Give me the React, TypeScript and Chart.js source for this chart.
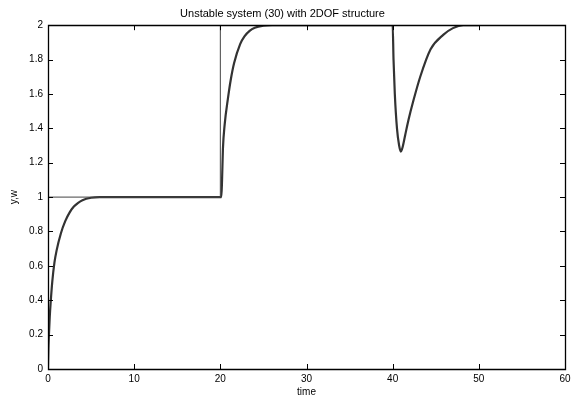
import React, { useEffect, useRef } from "react";
import { Chart, registerables } from "chart.js";

Chart.register(...registerables);

// Output y (simulated response)
const yTime = [
  0, 0.05, 0.1, 0.2, 0.3, 0.5, 0.75, 1, 1.5, 2, 2.5, 3, 3.5, 4, 5, 6, 20,
  20.12, 20.2, 20.3, 20.5, 20.9, 21.2, 21.6, 22.3, 22.8, 23.4, 24, 25, 26, 40,
  40.1, 40.25, 40.5, 40.75, 40.95, 41.15, 41.45, 41.84, 42.4, 43.2, 44.4, 45.9, 47, 48.2, 50,
];
const yValues = [
  0, 0.12, 0.19, 0.3, 0.38, 0.51, 0.62, 0.69, 0.79, 0.86, 0.91, 0.945, 0.967, 0.982, 0.996, 1, 1,
  1.0, 1.1, 1.28, 1.42, 1.58, 1.68, 1.78, 1.89, 1.935, 1.967, 1.985, 1.997, 2, 2,
  1.8, 1.6, 1.4, 1.3, 1.265, 1.29, 1.36, 1.45, 1.56, 1.7, 1.86, 1.945, 1.983, 2, 2,
];

// Reference w (setpoint)
const wTime = [0, 20, 20, 50];
const wValues = [1, 1, 2, 2];

const xTicks = [0, 10, 20, 30, 40, 50, 60];
const yTicks = [0, 0.2, 0.4, 0.6, 0.8, 1, 1.2, 1.4, 1.6, 1.8, 2];

const titleText = "Unstable system (30) with 2DOF structure";
const xLabel = "time";
const yLabel = "y,w";

const framePlugin = {
  id: "matlabFrame",
  afterDraw(chart: any) {
    const ctx = chart.ctx;
    const area = chart.chartArea;
    const left = area.left, right = area.right, top = area.top, bottom = area.bottom;
    const xs = chart.scales.x;
    const ys = chart.scales.y;
    const tl = 5;
    ctx.save();
    ctx.strokeStyle = "#000000";
    ctx.lineWidth = 1;
    ctx.beginPath();
    xTicks.forEach((t) => {
      const px = Math.round(xs.getPixelForValue(t)) + 0.5;
      ctx.moveTo(px, bottom);
      ctx.lineTo(px, bottom - tl);
      ctx.moveTo(px, top);
      ctx.lineTo(px, top + tl);
    });
    yTicks.forEach((t) => {
      const py = Math.round(ys.getPixelForValue(t)) + 0.5;
      ctx.moveTo(left, py);
      ctx.lineTo(left + tl, py);
      ctx.moveTo(right, py);
      ctx.lineTo(right - tl, py);
    });
    ctx.stroke();
    ctx.lineWidth = 1.3;
    ctx.beginPath();
    ctx.rect(Math.round(left) + 0.5, Math.round(top) + 0.5, Math.round(right - left), Math.round(bottom - top));
    ctx.stroke();
    ctx.restore();
  },
};

export default function App() {
  const ref = useRef<HTMLCanvasElement | null>(null);

  useEffect(() => {
    document.body.style.margin = "0";
    const canvas = ref.current;
    if (!canvas) return;
    const yData = yTime.map((t, i) => ({ x: t, y: yValues[i] }));
    const wData = wTime.map((t, i) => ({ x: t, y: wValues[i] }));
    const font = "'Liberation Sans', Arial, Helvetica, sans-serif";
    const chart = new Chart(canvas, {
      type: "line",
      data: {
        datasets: [
          {
            label: "w",
            data: wData,
            borderColor: "#444",
            borderWidth: 1,
            pointRadius: 0,
            tension: 0,
          },
          {
            label: "y",
            data: yData,
            borderColor: "#333",
            borderWidth: 2.2,
            pointRadius: 0,
            cubicInterpolationMode: "monotone",
          },
        ],
      },
      options: {
        responsive: false,
        animation: false,
        layout: { padding: { left: 0, right: 6, top: 0, bottom: 0 } },
        plugins: {
          legend: { display: false },
          tooltip: { enabled: false },
          title: {
            display: true,
            text: titleText,
            color: "#000",
            font: { family: font, size: 11, weight: "normal" },
            padding: { top: 7, bottom: 5 },
          },
        },
        scales: {
          x: {
            type: "linear",
            min: 0,
            max: 60,
            afterBuildTicks: (s: any) => {
              s.ticks = xTicks.map((v) => ({ value: v }));
            },
            afterFit: (s: any) => {
              s.height = 31;
              s.paddingLeft = 0;
              s.paddingRight = 0;
            },
            grid: { display: false, drawTicks: false },
            border: { display: true, color: "#000", width: 1 },
            ticks: {
              color: "#000",
              padding: 4,
              font: { family: font, size: 10 },
              maxRotation: 0,
              autoSkip: false,
            },
            title: {
              display: true,
              text: xLabel,
              color: "#000",
              font: { family: font, size: 10 },
              padding: { top: 0, bottom: 2 },
            },
          },
          y: {
            type: "linear",
            min: 0,
            max: 2,
            afterBuildTicks: (s: any) => {
              s.ticks = yTicks.map((v) => ({ value: v }));
            },
            afterFit: (s: any) => {
              s.width = 48;
              s.paddingTop = 0;
              s.paddingBottom = 0;
            },
            grid: { display: false, drawTicks: false },
            border: { display: true, color: "#000", width: 1 },
            ticks: {
              color: "#000",
              padding: 5,
              font: { family: font, size: 10 },
              autoSkip: false,
              callback: (v: any) => String(Math.round(Number(v) * 10) / 10),
            },
            title: {
              display: true,
              text: yLabel,
              color: "#000",
              font: { family: font, size: 10 },
              padding: { top: 8, bottom: 0 },
            },
          },
        },
      },
      plugins: [framePlugin],
    });
    return () => chart.destroy();
  }, []);

  return (
    <div style={{ position: "absolute", left: 0, top: 0, width: 571, height: 400, background: "#fff" }}>
      <canvas ref={ref} width={571} height={400} style={{ width: 571, height: 400, display: "block" }} />
    </div>
  );
}
